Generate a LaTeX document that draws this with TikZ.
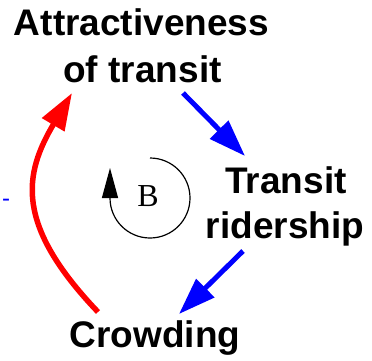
\documentclass[tikz,border=0pt]{standalone}
\usepackage{fontspec}
\setmainfont{Liberation Sans}
\newfontfamily\serifB{Liberation Serif}
\usetikzlibrary{arrows.meta}
\begin{document}
\begin{tikzpicture}[x=1pt,y=1pt,
  lbl/.style={font=\fontsize{37}{44}\selectfont\bfseries, inner sep=0pt, anchor=base},
  bigtip/.style={-{Triangle[length=37pt,width=25pt]}},
  poslink/.style={draw=blue, line width=5pt, bigtip},
  neglink/.style={draw=red, line width=5.5pt, bigtip},
  looparrow/.style={draw=black, line width=1.2pt, -{Triangle[length=30pt,width=16pt]}}]
\useasboundingbox (0,0) rectangle (372,360);
% variables
\node[lbl] (a1) at (141.5,325) {Attractiveness};
\node[lbl] (a2) at (142.5,278) {of transit};
\node[lbl] (t1) at (286,167) {Transit};
\node[lbl] (t2) at (285,122) {ridership};
\node[lbl] (cr) at (155,13) {Crowding};
% connector ends
\coordinate (p1s) at (183,267);
\coordinate (p1e) at (245,204);
\coordinate (p2s) at (243,109);
\coordinate (p2e) at (179,46);
\coordinate (n1s) at (98,48);
\coordinate (n1e) at (72,267);
% links
\draw[poslink] (p1s) -- (p1e);
\draw[poslink] (p2s) -- (p2e);
\draw[neglink] (n1s) .. controls (14,136) and (24,186) .. (n1e);
% polarity mark
\node[text=blue, font=\fontsize{24}{24}\selectfont, inner sep=0pt, anchor=base] (minus) at (6,153.5) {-};
% loop marker
\coordinate (ls) at (150,202);
\draw[looparrow] (ls) arc[start angle=90, end angle=-180, radius=40] -- ++(0,30);
\node[font=\serifB\fontsize{32}{32}\selectfont, inner sep=0pt] (B) at (148,164) {B};
\end{tikzpicture}
\end{document}
